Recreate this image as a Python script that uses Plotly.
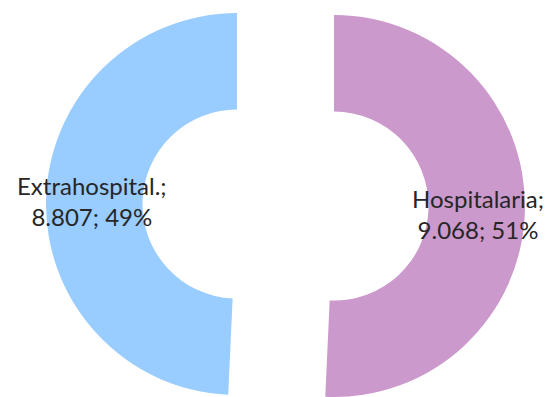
import plotly.graph_objects as go

# data -----------------------------------------------------------------
labels = ['Hospitalaria', 'Extrahospital.']
values = [9068, 8807]
colors = ['#CC99CC', '#99CCFF']

W, H = 553, 397
total = sum(values)


def fmt_num(v):
    # spanish style thousands separator
    return f"{v:,}".replace(',', '.')


def label_text(i):
    pct = round(100 * values[i] / total)
    return f"{labels[i]};<br>{fmt_num(values[i])}; {pct}%"


fig = go.Figure()

# each slice drawn in its own pie (the other slice transparent) so the two
# halves can sit apart like an exploded doughnut without shrinking the radius
domains = [
    dict(x=[0.208, 1.0], y=[0.0, 0.962]),    # Hospitalaria, shifted right
    dict(x=[0.0, 0.857], y=[0.005, 0.967]),  # Extrahospital., shifted left
]
for i in range(len(labels)):
    slice_colors = ['rgba(0,0,0,0)'] * len(labels)
    slice_colors[i] = colors[i]
    fig.add_trace(go.Pie(
        labels=labels,
        values=values,
        sort=False,
        direction='clockwise',
        rotation=0,
        hole=0.495,
        marker=dict(colors=slice_colors, line=dict(width=0)),
        textinfo='none',
        hoverinfo='label+value+percent',
        showlegend=False,
        domain=domains[i],
    ))

# labels placed as annotations (Excel style "name; value; pct")
label_pos = [(0.8644, 0.461), (0.1664, 0.4937)]
for i in range(len(labels)):
    fig.add_annotation(
        x=label_pos[i][0], y=label_pos[i][1],
        xref='paper', yref='paper',
        xanchor='center', yanchor='middle',
        text=label_text(i),
        showarrow=False,
        align='center',
        font=dict(family='Lato, Liberation Sans, sans-serif', size=24, color='#262626'),
    )

fig.update_layout(
    width=W, height=H,
    margin=dict(l=0, r=0, t=0, b=0),
    paper_bgcolor='white',
    plot_bgcolor='white',
)

# drop the browser's default 8px body margin so the figure fills the window
fig.write_html("out.html", config={'displayModeBar': False},
               post_script="document.body.style.margin='0';")
